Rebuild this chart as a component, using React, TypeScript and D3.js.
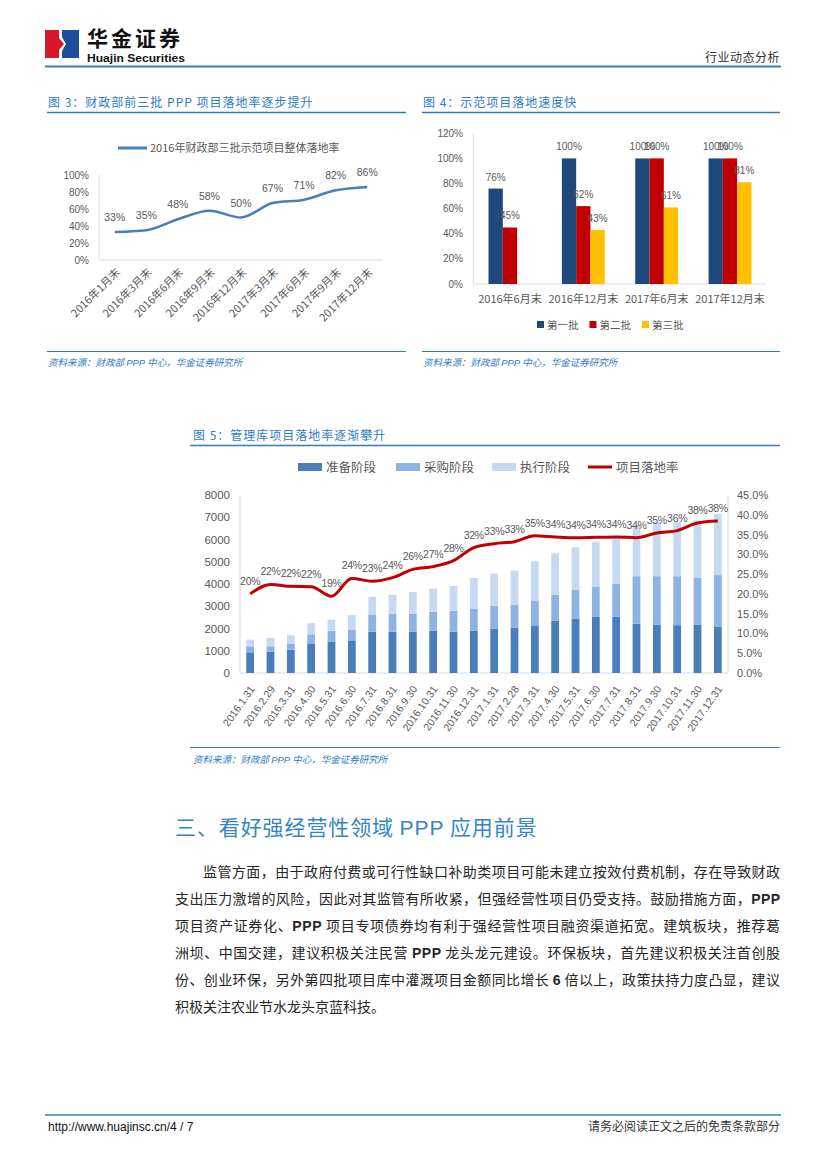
import React from "react";
import * as d3 from "d3";

// ---------- Data ----------
const fig3Categories = ["2016年1月末", "2016年3月末", "2016年6月末", "2016年9月末", "2016年12月末", "2017年3月末", "2017年6月末", "2017年9月末", "2017年12月末"];
const fig3Rates = [33, 35, 48, 58, 50, 67, 71, 82, 86];
const fig3Ticks = [0, 20, 40, 60, 80, 100];

const fig4Categories = ["2016年6月末", "2016年12月末", "2017年6月末", "2017年12月末"];
const fig4Batch1 = [76, 100, 100, 100];
const fig4Batch2 = [45, 62, 100, 100];
const fig4Batch3 = [null, 43, 61, 81];
const fig4SeriesNames = ["第一批", "第二批", "第三批"];
const fig4Ticks = [0, 20, 40, 60, 80, 100, 120];

const fig5Dates = ["2016.1.31", "2016.2.29", "2016.3.31", "2016.4.30", "2016.5.31", "2016.6.30", "2016.7.31", "2016.8.31", "2016.9.30", "2016.10.31", "2016.11.30", "2016.12.31", "2017.1.31", "2017.2.28", "2017.3.31", "2017.4.30", "2017.5.31", "2017.6.30", "2017.7.31", "2017.8.31", "2017.9.30", "2017.10.31", "2017.11.30", "2017.12.31"];
const fig5Prep = [930, 960, 1050, 1330, 1420, 1465, 1860, 1860, 1860, 1900, 1860, 1910, 2000, 2030, 2140, 2350, 2450, 2540, 2530, 2210, 2180, 2150, 2180, 2090];
const fig5Procure = [270, 240, 270, 410, 480, 495, 770, 800, 800, 850, 940, 990, 1020, 1050, 1120, 1160, 1290, 1350, 1490, 2140, 2170, 2200, 2100, 2310];
const fig5Exec = [300, 380, 380, 500, 500, 640, 800, 860, 980, 1040, 1110, 1370, 1450, 1520, 1760, 1870, 1910, 2010, 2130, 2300, 2430, 2450, 2580, 2740];
const fig5Rate = [20.0, 22.4, 21.9, 21.8, 19.4, 23.9, 23.2, 24.1, 26.2, 26.9, 28.4, 31.7, 32.7, 33.2, 34.7, 34.4, 34.2, 34.3, 34.4, 34.2, 35.4, 36.0, 37.9, 38.4];
const fig5LeftTicks = [0, 1000, 2000, 3000, 4000, 5000, 6000, 7000, 8000];
const fig5RightTicks = [0, 5, 10, 15, 20, 25, 30, 35, 40, 45];
const fig5SeriesNames = ["准备阶段", "采购阶段", "执行阶段", "项目落地率"];

const bodyLines = [
  "监管方面，由于政府付费或可行性缺口补助类项目可能未建立按效付费机制，存在导致财政",
  "支出压力激增的风险，因此对其监管有所收紧，但强经营性项目仍受支持。鼓励措施方面，PPP",
  "项目资产证券化、PPP 项目专项债券均有利于强经营性项目融资渠道拓宽。建筑板块，推荐葛",
  "洲坝、中国交建，建议积极关注民营 PPP 龙头龙元建设。环保板块，首先建议积极关注首创股",
  "份、创业环保，另外第四批项目库中灌溉项目金额同比增长 6 倍以上，政策扶持力度凸显，建议",
  "积极关注农业节水龙头京蓝科技。",
];

// ---------- Style ----------
const CJK = "'Noto Sans CJK SC', 'Noto Sans', sans-serif";
const LAT = "'Liberation Sans', 'Noto Sans CJK SC', sans-serif";
const BLUE = "#2f7bbf";
const GRAY = "#595959";
const AXIS = "#d9d9d9";

function richLine(line: string) {
  const parts = line.split(/(PPP|6)/);
  return parts.map((p, i) =>
    p === "PPP" || p === "6" ? (
      <tspan key={i} fontFamily={LAT} fontWeight="bold">{p}</tspan>
    ) : (
      <tspan key={i}>{p}</tspan>
    )
  );
}

function Fig3() {
  const x = d3.scaleBand().domain(fig3Categories).range([99, 383]);
  const y = d3.scaleLinear().domain([0, 100]).range([260, 175]);
  const line = d3
    .line<number>()
    .x((_, i) => (x(fig3Categories[i]) as number) + x.bandwidth() / 2)
    .y((d) => y(d))
    .curve(d3.curveMonotoneX);
  return (
    <g>
      <text x={48} y={107} fontFamily={CJK} fontSize={12} fill={BLUE} letterSpacing={1}>图 3：财政部前三批 PPP 项目落地率逐步提升</text>
      <line x1={47} x2={406} y1={112.5} y2={112.5} stroke={BLUE} strokeWidth={1.5} />
      <line x1={118} x2={147} y1={148} y2={148} stroke="#4a7ebb" strokeWidth={3} />
      <text x={150} y={152} fontFamily={CJK} fontSize={11} fill={GRAY}>2016年财政部三批示范项目整体落地率</text>
      <line x1={99} x2={99} y1={175} y2={260} stroke={AXIS} />
      <line x1={99} x2={383} y1={260} y2={260} stroke={AXIS} />
      {fig3Ticks.map((t) => (
        <text key={t} x={89} y={y(t) + 3.5} textAnchor="end" fontFamily={LAT} fontSize={10} fill={GRAY}>{t}%</text>
      ))}
      <path d={line(fig3Rates) || ""} fill="none" stroke="#4a7ebb" strokeWidth={2.5} />
      {fig3Rates.map((v, i) => (
        <text key={i} x={(x(fig3Categories[i]) as number) + x.bandwidth() / 2} y={y(v) - 11} textAnchor="middle" fontFamily={LAT} fontSize={10.5} fill={GRAY}>{v}%</text>
      ))}
      {fig3Categories.map((c) => {
        const cx = (x(c) as number) + x.bandwidth() / 2 + 6;
        return (
          <text key={c} transform={`translate(${cx},273) rotate(-45)`} textAnchor="end" fontFamily={CJK} fontSize={11} fill={GRAY}>{c}</text>
        );
      })}
      <line x1={47} x2={406} y1={351.5} y2={351.5} stroke={BLUE} strokeWidth={1} />
      <text x={48} y={366} fontFamily={CJK} fontSize={9.5} fontStyle="italic" fill={BLUE}>资料来源：财政部 <tspan fontFamily={LAT}>PPP</tspan> 中心，华金证券研究所</text>
    </g>
  );
}

function Fig4() {
  const x = d3.scaleBand().domain(fig4Categories).range([473.3, 766.7]);
  const y = d3.scaleLinear().domain([0, 120]).range([284, 133.3]);
  const series = [fig4Batch1, fig4Batch2, fig4Batch3];
  const colors = ["#1f497d", "#c00000", "#ffc000"];
  const bw = 14.3;
  return (
    <g>
      <text x={423} y={107} fontFamily={CJK} fontSize={12} fill={BLUE} letterSpacing={1}>图 4：示范项目落地速度快</text>
      <line x1={422} x2={780} y1={112.5} y2={112.5} stroke={BLUE} strokeWidth={1.5} />
      <line x1={473.3} x2={473.3} y1={133.3} y2={284} stroke={AXIS} />
      <line x1={473.3} x2={766.7} y1={284} y2={284} stroke={AXIS} />
      {fig4Ticks.map((t) => (
        <text key={t} x={463} y={y(t) + 3.5} textAnchor="end" fontFamily={LAT} fontSize={10} fill={GRAY}>{t}%</text>
      ))}
      {series.map((s, si) =>
        s.map((v, ci) => {
          if (v == null) return null;
          const cx = (x(fig4Categories[ci]) as number) + x.bandwidth() / 2;
          const x0 = cx - 1.5 * bw + si * bw;
          return (
            <g key={`${si}-${ci}`}>
              <rect x={x0} y={y(v)} width={bw} height={284 - y(v)} fill={colors[si]} />
              <text x={x0 + bw / 2} y={y(v) - 8} textAnchor="middle" fontFamily={LAT} fontSize={10} fill={GRAY}>{v}%</text>
            </g>
          );
        })
      )}
      {fig4Categories.map((c) => (
        <text key={c} x={(x(c) as number) + x.bandwidth() / 2} y={303} textAnchor="middle" fontFamily={CJK} fontSize={11} fill={GRAY}>{c}</text>
      ))}
      {fig4SeriesNames.map((n, i) => {
        const lx = 537 + i * 52.5;
        return (
          <g key={n}>
            <rect x={lx} y={321} width={7} height={7} fill={colors[i]} />
            <text x={lx + 10} y={329} fontFamily={CJK} fontSize={10.5} fill={GRAY}>{n}</text>
          </g>
        );
      })}
      <line x1={422} x2={780} y1={351.5} y2={351.5} stroke={BLUE} strokeWidth={1} />
      <text x={423} y={366} fontFamily={CJK} fontSize={9.5} fontStyle="italic" fill={BLUE}>资料来源：财政部 <tspan fontFamily={LAT}>PPP</tspan> 中心，华金证券研究所</text>
    </g>
  );
}

function Fig5() {
  const x = d3.scaleBand().domain(fig5Dates).range([240, 728]);
  const yL = d3.scaleLinear().domain([0, 8000]).range([673, 495]);
  const yR = d3.scaleLinear().domain([0, 45]).range([673, 495]);
  const bw = 7.8;
  const cols = ["#4a7ebb", "#8db3e2", "#c6d9f0"];
  const stacks = fig5Dates.map((d, i) => {
    const a = fig5Prep[i];
    const b = a + fig5Procure[i];
    const c = b + fig5Exec[i];
    return [[0, a], [a, b], [b, c]];
  });
  const cx = (i: number) => (x(fig5Dates[i]) as number) + x.bandwidth() / 2;
  const line = d3
    .line<number>()
    .x((_, i) => cx(i))
    .y((d) => yR(d))
    .curve(d3.curveMonotoneX);
  const legendX = [298, 396, 492, 588];
  return (
    <g>
      <text x={193} y={440} fontFamily={CJK} fontSize={12} fill={BLUE} letterSpacing={1}>图 5：管理库项目落地率逐渐攀升</text>
      <line x1={190} x2={780} y1={445.5} y2={445.5} stroke={BLUE} strokeWidth={1.5} />
      {fig5SeriesNames.map((n, i) => (
        <g key={n}>
          {i < 3 ? (
            <rect x={legendX[i]} y={463} width={24} height={8} fill={cols[i]} />
          ) : (
            <line x1={legendX[i]} x2={legendX[i] + 24} y1={467} y2={467} stroke="#c00000" strokeWidth={3} />
          )}
          <text x={legendX[i] + 28} y={471.5} fontFamily={CJK} fontSize={12.5} fill={GRAY}>{n}</text>
        </g>
      ))}
      <line x1={240} x2={240} y1={495} y2={673} stroke={AXIS} />
      <line x1={728} x2={728} y1={495} y2={673} stroke={AXIS} />
      <line x1={240} x2={728} y1={673} y2={673} stroke={AXIS} />
      {fig5LeftTicks.map((t) => (
        <text key={t} x={230} y={yL(t) + 4} textAnchor="end" fontFamily={LAT} fontSize={11.5} fill={GRAY}>{t}</text>
      ))}
      {fig5RightTicks.map((t) => (
        <text key={t} x={737} y={yR(t) + 4} fontFamily={LAT} fontSize={11} fill={GRAY}>{t.toFixed(1)}%</text>
      ))}
      {stacks.map((st, i) =>
        st.map(([a, b], k) => (
          <rect key={`${i}-${k}`} x={cx(i) - bw / 2} y={yL(b)} width={bw} height={yL(a) - yL(b)} fill={cols[k]} />
        ))
      )}
      <path d={line(fig5Rate) || ""} fill="none" stroke="#c00000" strokeWidth={3} />
      {fig5Rate.map((v, i) => (
        <text key={i} x={cx(i)} y={yR(v) - 9} textAnchor="middle" fontFamily={LAT} fontSize={10.5} letterSpacing={-0.3} fill={GRAY}>{Math.round(v)}%</text>
      ))}
      {fig5Dates.map((d, i) => (
        <text key={d} transform={`translate(${cx(i) + 5},689) rotate(-55)`} textAnchor="end" fontFamily={LAT} fontSize={10.5} fill={GRAY}>{d}</text>
      ))}
      <line x1={190} x2={780} y1={747.5} y2={747.5} stroke={BLUE} strokeWidth={1} />
      <text x={193} y={763} fontFamily={CJK} fontSize={9.5} fontStyle="italic" fill={BLUE}>资料来源：财政部 <tspan fontFamily={LAT}>PPP</tspan> 中心，华金证券研究所</text>
    </g>
  );
}

export default function App() {
  const lineYs = bodyLines.map((_, i) => 877 + i * 27);
  return (
    <svg width={827} height={1169} style={{ position: "absolute", left: 0, top: 0, background: "#fff" }}>
      <rect width={827} height={1169} fill="#fff" />
      {/* Header */}
      <rect x={45} y={30} width={14} height={28} fill="#d7182a" />
      <polygon points="59,38 64,44 59,50" fill="#d7182a" />
      <polygon points="62,30 79,30 79,58 62,58 62,51 66,44 62,37" fill="#1d4e9e" />
      <text x={87} y={46} fontFamily={CJK} fontSize={21} fontWeight="bold" fill="#111" letterSpacing={3}>华金证券</text>
      <text x={87} y={62} fontFamily={LAT} fontSize={11} fontWeight="bold" fill="#111" textLength={98} lengthAdjust="spacingAndGlyphs">Huajin Securities</text>
      <text x={780} y={62} textAnchor="end" fontFamily={CJK} fontSize={12} fill="#333" letterSpacing={0.5}>行业动态分析</text>
      <line x1={45} x2={781} y1={66.5} y2={66.5} stroke="#3a7fb8" strokeWidth={2} />

      <Fig3 />
      <Fig4 />
      <Fig5 />

      {/* Section heading */}
      <text x={175} y={835} fontFamily={CJK} fontSize={21} fill="#3385c6" letterSpacing={0.9}>三、看好强经营性领域 <tspan fontFamily={LAT}>PPP</tspan> 应用前景</text>

      {bodyLines.map((l, i) => {
        const last = i === bodyLines.length - 1;
        const x0 = i === 0 ? 203 : 175;
        return (
          <text key={i} x={x0} y={lineYs[i]} fontFamily={CJK} fontSize={14} fill="#262626"
            {...(last ? {} : { textLength: 780 - x0, lengthAdjust: "spacing" })}>
            {richLine(l)}
          </text>
        );
      })}

      {/* Footer */}
      <line x1={45} x2={781} y1={1115} y2={1115} stroke="#3a7fb8" strokeWidth={1.5} />
      <text x={48} y={1131} fontFamily={LAT} fontSize={12} fill="#111">http://www.huajinsc.cn/4 / 7</text>
      <text x={780} y={1131} textAnchor="end" fontFamily={CJK} fontSize={12} fill="#333">请务必阅读正文之后的免责条款部分</text>
    </svg>
  );
}
